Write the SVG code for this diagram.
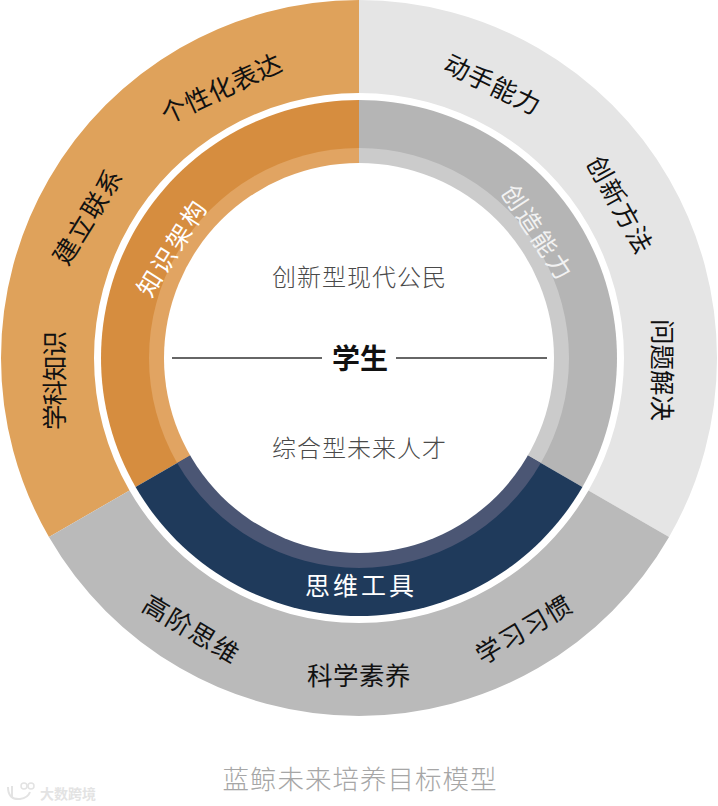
<svg xmlns="http://www.w3.org/2000/svg" width="718" height="806" viewBox="0 0 718 806">
<style>
text{font-family:"Noto Sans CJK SC","Noto Sans",sans-serif;text-anchor:middle;dominant-baseline:central}
.outer{font-size:25.5px;fill:#111}
.inner{font-size:24.5px;fill:#ffffff}
.center{font-size:24px;fill:#4a4a4a;font-weight:300;letter-spacing:1px}
.rule{stroke:#333;stroke-width:1.6}
</style>
<rect width="718" height="806" fill="#ffffff"/>

<g id="outer-ring">
  <path id="seg-orange" d="M359 0 A358 358 0 0 0 48.96 537 L129.5 490.5 A265 265 0 0 1 359 93 Z" fill="#DFA25B"/>
  <path id="seg-lightgray" d="M359 0 A358 358 0 0 1 669.04 537 L588.5 490.5 A265 265 0 0 0 359 93 Z" fill="#E5E5E5"/>
  <path id="seg-gray" d="M48.96 537 A358 358 0 0 0 669.04 537 L588.5 490.5 A265 265 0 0 1 129.5 490.5 Z" fill="#BABABA"/>
</g>

<g id="inner-ring">
  <path d="M359 358 L359 100 A258 258 0 0 0 135.57 487 Z" fill="#D68D3F"/>
  <path d="M359 358 L359 100 A258 258 0 0 1 582.43 487 Z" fill="#B5B5B5"/>
  <path d="M359 358 L135.57 487 A258 258 0 0 0 582.43 487 Z" fill="#1F3A5B"/>
  <path d="M359 358 L359 148 A210 210 0 0 0 177.13 463 Z" fill="#E1A462"/>
  <path d="M359 358 L359 148 A210 210 0 0 1 540.87 463 Z" fill="#CBCBCB"/>
  <path d="M359 358 L177.13 463 A210 210 0 0 0 540.87 463 Z" fill="#4B5674"/>
  <circle cx="359" cy="358" r="195" fill="#ffffff"/>
</g>

<g id="label-gexinghua"><text class="outer" style="letter-spacing:0.5px" transform="translate(220.5,86.5) rotate(-25)">个性化表达</text></g>
<g id="label-jianli"><text class="outer" style="letter-spacing:1.5px" transform="translate(86,215) rotate(-58)">建立联系</text></g>
<g id="label-xueke"><text class="outer" style="letter-spacing:-1px" transform="translate(52,381) rotate(-90)">学科知识</text></g>
<g id="label-dongshou"><text class="outer" style="letter-spacing:0.5px" transform="translate(493.5,82.5) rotate(26)">动手能力</text></g>
<g id="label-chuangxin"><text class="outer" style="letter-spacing:1.5px" transform="translate(622,204) rotate(61)">创新方法</text></g>
<g id="label-wenti"><text class="outer" style="letter-spacing:0px" transform="translate(664,370) rotate(90)">问题解决</text></g>
<g id="label-gaojie"><text class="outer" style="letter-spacing:1.5px" transform="translate(192.5,627.5) rotate(31)">高阶思维</text></g>
<g id="label-kexue"><text class="outer" style="letter-spacing:0.5px" transform="translate(359,673)">科学素养</text></g>
<g id="label-xuexi"><text class="outer" style="letter-spacing:1.5px" transform="translate(523,627.5) rotate(-31)">学习习惯</text></g>

<g id="label-zhishi"><text class="inner" style="letter-spacing:3px" transform="translate(171,246.5) rotate(-58)">知识架构</text></g>
<g id="label-chuangzao"><text class="inner" style="letter-spacing:3px;fill:#f2f2f2" transform="translate(539,232.5) rotate(57)">创造能力</text></g>
<g id="label-siwei"><text class="inner" style="font-size:25px;letter-spacing:3px" transform="translate(361,584)">思维工具</text></g>

<g id="center">
  <text class="center" x="359.5" y="275">创新型现代公民</text>
  <text x="360" y="357" style="font-size:28px;font-weight:bold;fill:#111">学生</text>
  <text class="center" x="359.5" y="446">综合型未来人才</text>
</g>

<g id="connectors">
  <line class="rule" x1="172" y1="358" x2="322" y2="358"/>
  <line class="rule" x1="396" y1="358" x2="547" y2="358"/>
</g>

<g id="caption">
  <text x="360" y="777" style="font-size:26.5px;fill:#a6a6a6;font-weight:300;letter-spacing:1px">蓝鲸未来培养目标模型</text>
</g>

<g id="watermark">
  <path d="M8 787 Q8 800 20 799 Q28 798 30 792 M12 786 L12 798" fill="none" stroke="#e3e3e3" stroke-width="2"/>
  <circle cx="24" cy="786" r="3" fill="none" stroke="#e3e3e3" stroke-width="1.5"/>
  <circle cx="31" cy="786" r="3" fill="none" stroke="#e3e3e3" stroke-width="1.5"/>
  <text x="68" y="793" style="font-size:14px;fill:#e3e3e3;font-weight:bold">大数跨境</text>
</g>
</svg>
